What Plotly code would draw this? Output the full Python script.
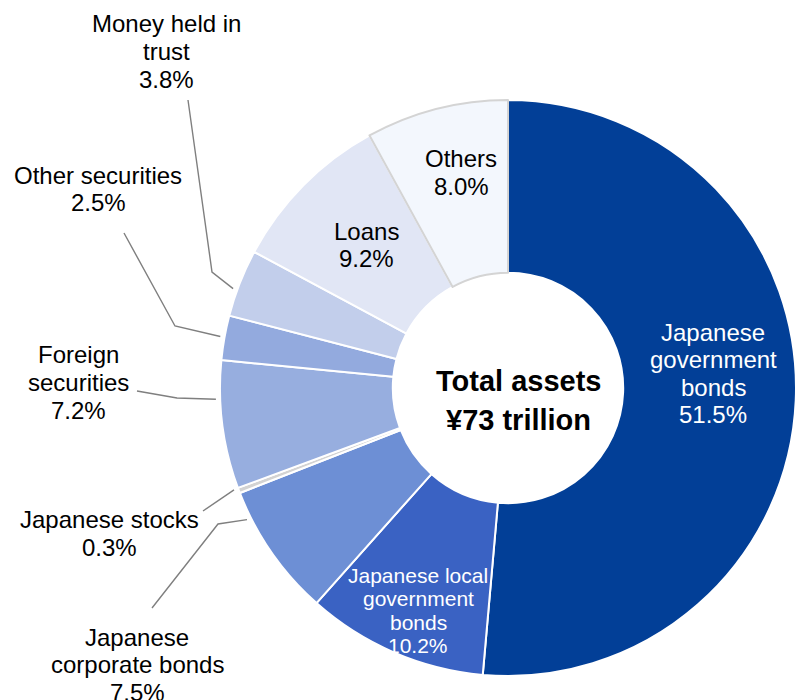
import math
import plotly.graph_objects as go

# Asset composition (share of total, %), listed clockwise from 12 o'clock
categories = [
    "Japanese government bonds",
    "Japanese local government bonds",
    "Japanese corporate bonds",
    "Japanese stocks",
    "Foreign securities",
    "Other securities",
    "Money held in trust",
    "Loans",
    "Others",
]
shares = [51.5, 10.2, 7.5, 0.3, 7.2, 2.5, 3.8, 9.2, 8.0]

# How each category name is wrapped on the chart
label_lines = [
    ["Japanese", "government", "bonds"],
    ["Japanese local", "government", "bonds"],
    ["Japanese", "corporate bonds"],
    ["Japanese stocks"],
    ["Foreign", "securities"],
    ["Other securities"],
    ["Money held in", "trust"],
    ["Loans"],
    ["Others"],
]
center_lines = ["Total assets", "¥73 trillion"]

slice_colors = ["#023F97", "#3A62C3", "#6D8FD5", "#D3D3D3", "#97AEDF",
                "#93AADE", "#C2CEEB", "#E1E6F5", "#F3F7FD"]
edge_colors = ["#FFFFFF", "#FFFFFF", "#FFFFFF", "#FFFFFF", "#FFFFFF",
               "#FFFFFF", "#FFFFFF", "#FFFFFF", "#D4D4D4"]

FONT = "Liberation Sans, Arial, sans-serif"
W, H = 796, 700

# Pie placement in pixels (left, top, size of square domain)
PIE_LEFT, PIE_TOP, PIE_SIZE = 220, 100, 576
CX = PIE_LEFT + PIE_SIZE / 2
CY = PIE_TOP + PIE_SIZE / 2
R = PIE_SIZE / 2

# Label placement: centre x, first-line y, line pitch, font size, colour,
# and optional leader line (start, elbow, fraction along slice arc)
label_style = {
    "Japanese government bonds": dict(x=713, y=332, dy=27.6, size=24, color="white"),
    "Japanese local government bonds": dict(x=418, y=575, dy=23.6, size=21, color="white"),
    "Japanese corporate bonds": dict(x=137, y=637, dy=27.5, size=24, color="black",
                                     leader=((152, 608), (218, 524), 0.80)),
    "Japanese stocks": dict(x=109, y=519, dy=28, size=24, color="black",
                            leader=((203, 511), None, 0.9)),
    "Foreign securities": dict(x=78, y=354, dy=28, size=24, color="black",
                               leader=((137, 391), (177, 398), 0.70)),
    "Other securities": dict(x=98, y=175, dy=27.5, size=24, color="black",
                             leader=((124, 233), (175, 326), 0.51)),
    "Money held in trust": dict(x=166, y=23, dy=28, size=24, color="black",
                                leader=((188, 100), (212, 272), 0.39)),
    "Loans": dict(x=366, y=231, dy=27.5, size=24, color="black"),
    "Others": dict(x=461, y=158, dy=28, size=24, color="black"),
}

fig = go.Figure()

fig.add_trace(go.Pie(
    labels=categories,
    values=shares,
    sort=False,
    direction="clockwise",
    rotation=0,
    hole=0.40,
    textinfo="none",
    hoverinfo="label+value",
    marker=dict(colors=slice_colors, line=dict(color=edge_colors, width=2)),
    domain=dict(x=[PIE_LEFT / W, (PIE_LEFT + PIE_SIZE) / W],
                y=[1 - (PIE_TOP + PIE_SIZE) / H, 1 - PIE_TOP / H]),
    showlegend=False,
))

annotations = []
shapes = []
total = sum(shares)
cum = 0.0
for name, value, lines in zip(categories, shares, label_lines):
    st = label_style[name]
    all_lines = lines + [f"{value:.1f}%"]
    for i, line in enumerate(all_lines):
        annotations.append(dict(
            x=st["x"], y=st["y"] + i * st["dy"], xref="x", yref="y",
            text=line, showarrow=False, xanchor="center", yanchor="middle",
            font=dict(family=FONT, size=st["size"], color=st["color"]),
        ))
    if "leader" in st:
        start, elbow, frac = st["leader"]
        ang = math.radians((cum + frac * value) / total * 360.0)
        ex = CX + R * 1.015 * math.sin(ang)
        ey = CY - R * 1.015 * math.cos(ang)
        pts = [start] + ([elbow] if elbow else []) + [(ex, ey)]
        path = "M " + " L ".join(f"{px:.1f},{py:.1f}" for px, py in pts)
        shapes.append(dict(type="path", xref="x", yref="y", path=path,
                           line=dict(color="#7F7F7F", width=1.4)))
    cum += value

for i, line in enumerate(center_lines):
    annotations.append(dict(
        x=518, y=381 + i * 39, xref="x", yref="y",
        text=f"<b>{line}</b>", showarrow=False, xanchor="center", yanchor="middle",
        font=dict(family=FONT, size=29, color="black"),
    ))

fig.update_layout(
    width=W, height=H,
    margin=dict(l=0, r=0, t=0, b=0),
    paper_bgcolor="white", plot_bgcolor="rgba(0,0,0,0)",
    xaxis=dict(range=[0, W], visible=False, fixedrange=True),
    yaxis=dict(range=[H, 0], visible=False, fixedrange=True),
    annotations=annotations,
    shapes=shapes,
    font=dict(family=FONT),
)

fig.write_html("out.html")
